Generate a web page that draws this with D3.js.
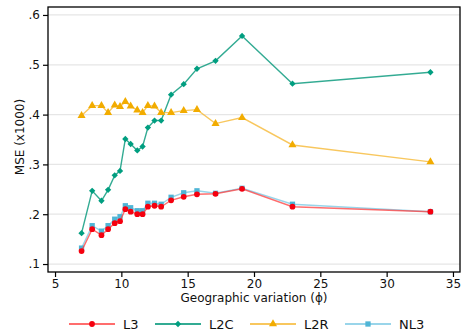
<!DOCTYPE html>
<meta charset="utf-8">
<script src="https://d3js.org/d3.v7.min.js"></script>
<style>
  body { margin:0; background:#fff; }
  text { font-family: "DejaVu Sans", sans-serif; }
</style>
<div id="chart"></div>
<script>
  // geographic variation (phi) values on the x axis
  const phi = [7, 7.8, 8.5, 9, 9.5, 9.9, 10.3, 10.7, 11.2, 11.6, 12, 12.5, 13, 13.75, 14.7, 15.7, 17.1, 19.1, 22.9, 33.3];

  const L3  = [0.126, 0.170, 0.158, 0.170, 0.182, 0.186, 0.210, 0.205, 0.200, 0.200, 0.215, 0.217, 0.215, 0.228, 0.235, 0.240, 0.241, 0.251, 0.215, 0.205];
  const L2C = [0.162, 0.247, 0.227, 0.249, 0.278, 0.287, 0.351, 0.341, 0.328, 0.336, 0.374, 0.388, 0.388, 0.440, 0.461, 0.492, 0.508, 0.558, 0.462, 0.485];
  const L2R = [0.398, 0.418, 0.418, 0.404, 0.419, 0.416, 0.426, 0.417, 0.409, 0.404, 0.418, 0.417, 0.404, 0.404, 0.408, 0.410, 0.382, 0.394, 0.339, 0.305];
  const NL3 = [0.132, 0.177, 0.166, 0.177, 0.190, 0.195, 0.217, 0.213, 0.207, 0.207, 0.222, 0.222, 0.220, 0.234, 0.243, 0.247, 0.242, 0.252, 0.220, 0.205];

  const xTicks = [5, 10, 15, 20, 25, 30, 35];
  const yTicks = [0.1, 0.2, 0.3, 0.4, 0.5, 0.6];

  // rot: rotate the square 45deg to get Stata's diamond
  const series = [
    { name: "L3",  values: L3,  line: "rgba(255,60,60,0.75)",  mark: "#f5000f", sym: d3.symbolCircle,   size: 26, rot: 0 },
    { name: "L2C", values: L2C, line: "rgba(0,150,120,0.8)",   mark: "#009e80", sym: d3.symbolSquare,   size: 20, rot: 45 },
    { name: "L2R", values: L2R, line: "rgba(245,180,40,0.75)", mark: "#f2ac00", sym: d3.symbolTriangle, size: 28, rot: 0 },
    { name: "NL3", values: NL3, line: "rgba(110,195,225,0.7)", mark: "#4fb5d6", sym: d3.symbolSquare,   size: 28, rot: 0 }
  ];

  const W = 462, H = 330;
  const pL = 48, pR = 460, pT = 7, pB = 272;

  const svg = d3.select("#chart").append("svg")
    .attr("width", W).attr("height", H);

  const x = d3.scaleLinear().domain([4.47, 35.53]).range([pL, pR]);
  const y = d3.scaleLinear().domain([0.084, 0.616]).range([pB, pT]);

  // grid lines
  svg.append("g").selectAll("line")
    .data(yTicks).join("line")
    .attr("x1", pL).attr("x2", pR)
    .attr("y1", d => y(d)).attr("y2", d => y(d))
    .attr("stroke", "#e6e6e6").attr("stroke-width", 1.3);

  // plot border
  svg.append("rect")
    .attr("x", pL).attr("y", pT)
    .attr("width", pR - pL).attr("height", pB - pT)
    .attr("fill", "none").attr("stroke", "#000").attr("stroke-width", 1.3);

  const fmt = d => d3.format(".1f")(d).replace(/^0/, "");

  const yAxis = svg.append("g")
    .attr("transform", `translate(${pL},0)`)
    .call(d3.axisLeft(y).tickValues(yTicks).tickFormat(fmt).tickSize(5).tickPadding(3));
  const xAxis = svg.append("g")
    .attr("transform", `translate(0,${pB})`)
    .call(d3.axisBottom(x).tickValues(xTicks).tickSize(5).tickPadding(2));

  [xAxis, yAxis].forEach(a => {
    a.select(".domain").remove();
    a.selectAll("line").attr("stroke", "#000").attr("stroke-width", 1.2);
    a.selectAll("text").attr("font-size", 12).attr("fill", "#111")
      .attr("font-family", "DejaVu Sans, sans-serif");
  });

  svg.append("text")
    .attr("x", 254).attr("y", 302)
    .attr("text-anchor", "middle").attr("font-size", 12).attr("fill", "#111")
    .text("Geographic variation (\u03d5)");

  svg.append("text")
    .attr("transform", "translate(24,137) rotate(-90)")
    .attr("text-anchor", "middle").attr("font-size", 12).attr("fill", "#111")
    .text("MSE (x1000)");

  const line = d3.line().x((d, i) => x(phi[i])).y(d => y(d));

  // draw order: NL3 under L3 so red stays visible
  const order = [series[3], series[0], series[1], series[2]];
  order.forEach(s => {
    svg.append("path").datum(s.values)
      .attr("d", line)
      .attr("fill", "none").attr("stroke", s.line).attr("stroke-width", 1.4);
    svg.append("g").selectAll("path")
      .data(s.values).join("path")
      .attr("transform", (d, i) => `translate(${x(phi[i])},${y(d)}) rotate(${s.rot})`)
      .attr("d", d3.symbol().type(s.sym).size(s.size))
      .attr("fill", s.mark);
  });

  // legend
  const legX = [69, 155, 250, 345];
  const lg = svg.append("g").attr("transform", "translate(0,324)");
  series.forEach((s, i) => {
    const g = lg.append("g").attr("transform", `translate(${legX[i]},0)`);
    g.append("line").attr("x1", 0).attr("x2", 46)
      .attr("stroke", s.line).attr("stroke-width", 2);
    g.append("path").attr("transform", `translate(23,0) rotate(${s.rot})`)
      .attr("d", d3.symbol().type(s.sym).size(s.size)).attr("fill", s.mark);
    g.append("text").attr("x", 54).attr("y", 4.5)
      .attr("font-size", 13).attr("fill", "#111").text(s.name);
  });
</script>
